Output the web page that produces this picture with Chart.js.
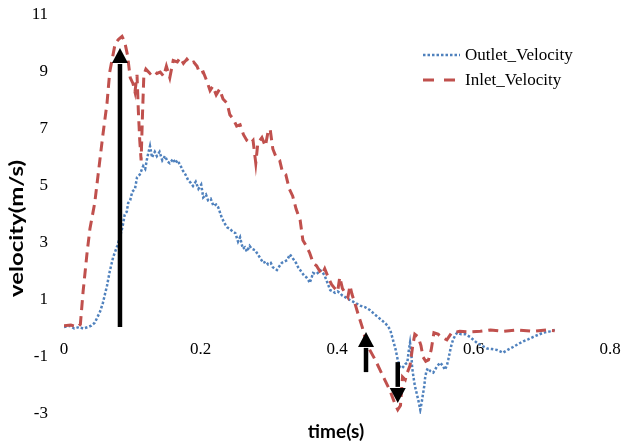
<!DOCTYPE html>
<html><head><meta charset="utf-8">
<script src="https://cdn.jsdelivr.net/npm/chart.js@4/dist/chart.umd.min.js"></script>
<style>html,body{margin:0;padding:0;background:#fff}#wrap{width:621px;height:441px}</style>
</head><body><div id="wrap"><canvas id="c" width="621" height="441"></canvas></div>
<script>
// ---- data ----
const seriesNames = ['Outlet_Velocity', 'Inlet_Velocity'];
const xTitle = 'time(s)';
const yTitle = 'velocity(m/s)';
const xTicks = [0, 0.2, 0.4, 0.6, 0.8];
const yTicks = [-3, -1, 1, 3, 5, 7, 9, 11];

const inletTime = [0,0.010,0.020,0.024,0.028,0.034,0.038,0.045,0.050,0.057,0.063,0.067,0.075,0.080,0.085,0.089,0.093,0.097,0.101,0.104,0.107,0.109,0.111,0.113,0.115,0.117,0.120,0.126,0.131,0.136,0.141,0.146,0.150,0.155,0.160,0.166,0.170,0.175,0.180,0.185,0.190,0.195,0.199,0.204,0.209,0.214,0.218,0.223,0.228,0.233,0.239,0.243,0.248,0.253,0.258,0.263,0.268,0.273,0.277,0.281,0.284,0.290,0.295,0.299,0.302,0.306,0.311,0.316,0.320,0.325,0.330,0.335,0.340,0.346,0.350,0.355,0.360,0.365,0.370,0.375,0.378,0.382,0.387,0.392,0.397,0.401,0.404,0.408,0.412,0.416,0.419,0.422,0.426,0.431,0.437,0.442,0.448,0.456,0.463,0.470,0.478,0.485,0.489,0.493,0.496,0.500,0.503,0.507,0.511,0.514,0.519,0.523,0.526,0.530,0.534,0.538,0.542,0.548,0.553,0.561,0.568,0.580,0.595,0.610,0.625,0.643,0.664,0.687,0.708,0.719];
const inletVel = [0.10,0.12,0.05,0.15,1.3,2.7,3.5,4.4,5.4,6.8,7.9,9.0,10.0,10.15,10.25,10.05,9.6,8.8,8.6,8.3,8.9,7.6,6.6,5.9,7.5,8.9,9.1,8.95,9.05,8.95,9.0,8.85,9.2,8.8,9.4,9.35,9.5,9.3,9.45,9.3,9.35,9.2,8.95,9.0,8.7,8.35,8.5,8.2,8.4,8.05,7.9,7.5,7.35,7.1,7.15,6.8,6.6,6.5,6.6,5.8,6.5,6.7,6.4,6.9,7.0,6.3,6.0,5.9,5.5,5.4,4.9,4.65,4.2,3.8,3.1,2.9,2.65,2.3,2.2,2.0,1.9,2.1,1.8,1.55,1.4,1.3,1.8,1.4,1.25,1.1,1.5,1.2,0.9,0.5,0.05,-0.4,-0.75,-1.1,-1.45,-1.8,-2.2,-2.65,-2.85,-2.7,-1.7,-1.8,-1.55,-1.3,-0.6,-0.2,-0.3,-0.6,-1.0,-1.15,-1.1,-0.75,-0.15,-0.2,-0.3,-0.4,-0.15,-0.1,-0.12,-0.1,-0.05,-0.1,-0.05,-0.1,-0.05,-0.08];

const outletTime = [0.000,0.008,0.015,0.022,0.028,0.035,0.040,0.045,0.049,0.053,0.057,0.060,0.063,0.067,0.072,0.078,0.082,0.086,0.089,0.092,0.094,0.097,0.100,0.104,0.107,0.111,0.116,0.119,0.122,0.126,0.129,0.133,0.136,0.140,0.144,0.148,0.152,0.155,0.160,0.163,0.166,0.170,0.174,0.178,0.182,0.186,0.189,0.193,0.197,0.201,0.204,0.208,0.211,0.215,0.219,0.223,0.226,0.231,0.235,0.239,0.243,0.247,0.251,0.255,0.258,0.262,0.265,0.268,0.272,0.275,0.280,0.284,0.288,0.292,0.296,0.299,0.303,0.306,0.309,0.312,0.316,0.319,0.323,0.327,0.331,0.334,0.337,0.340,0.343,0.346,0.349,0.352,0.355,0.358,0.360,0.363,0.365,0.369,0.372,0.375,0.378,0.382,0.386,0.390,0.394,0.397,0.401,0.404,0.408,0.412,0.419,0.427,0.434,0.441,0.448,0.455,0.460,0.465,0.470,0.474,0.478,0.482,0.486,0.489,0.492,0.495,0.497,0.500,0.503,0.505,0.507,0.509,0.510,0.512,0.514,0.517,0.519,0.522,0.524,0.526,0.528,0.529,0.531,0.533,0.537,0.541,0.546,0.551,0.555,0.558,0.561,0.563,0.566,0.568,0.570,0.573,0.576,0.582,0.588,0.595,0.600,0.605,0.612,0.620,0.627,0.634,0.639,0.643,0.650,0.658,0.665,0.673,0.680,0.687,0.695,0.702,0.708,0.712,0.719];
const outletVel = [0.05,0.1,0.0,0.05,0.0,0.05,0.1,0.2,0.4,0.6,0.9,1.2,1.5,2.0,2.5,2.9,3.2,3.6,4.0,4.1,4.4,4.5,4.8,4.9,5.3,5.4,5.7,5.6,6.0,6.4,6.0,6.2,6.05,6.2,5.9,6.05,5.85,5.8,5.95,5.8,5.9,5.75,5.55,5.4,5.2,5.1,5.0,5.15,4.9,5.05,4.6,4.7,4.5,4.55,4.3,4.35,4.25,3.9,3.7,3.55,3.5,3.4,3.35,3.05,3.2,2.8,2.85,2.7,2.9,2.8,2.75,2.6,2.45,2.3,2.35,2.25,2.3,2.15,2.1,2.05,2.2,2.3,2.35,2.4,2.6,2.5,2.4,2.3,2.15,2.05,1.95,1.85,1.8,1.7,1.6,1.8,1.95,1.9,1.95,2.05,2.0,1.85,1.6,1.35,1.3,1.25,1.3,1.25,1.15,1.1,1.0,0.9,0.8,0.75,0.65,0.5,0.4,0.3,0.2,0.1,-0.05,-0.4,-0.75,-1.1,-1.35,-1.4,-1.35,-1.25,-1.2,-0.8,-0.5,-0.9,-1.35,-1.7,-2.0,-2.3,-2.5,-2.85,-2.6,-2.3,-2.0,-1.75,-1.5,-1.4,-1.5,-1.55,-1.35,-1.2,-1.3,-1.45,-1.3,-1.1,-0.75,-0.55,-0.4,-0.25,-0.15,-0.2,-0.2,-0.3,-0.4,-0.5,-0.6,-0.7,-0.72,-0.75,-0.8,-0.85,-0.75,-0.65,-0.55,-0.45,-0.38,-0.3,-0.22,-0.15,-0.12,-0.1,-0.05];

// annotation arrows (time, start velocity, tip velocity)
const arrowTime = [0.082, 0.4425, 0.489];
const arrowFrom = [0.05, -1.53, -1.18];
const arrowTo   = [9.84, -0.12, -2.61];

// ---- styles ----
const BLUE = '#4f81bd', RED = '#c0504d';
const tickFont = {family: '"Liberation Serif", "Times New Roman", serif', size: 17};

const toPts = (ts, vs) => ts.map((t, i) => ({x: t, y: vs[i]}));

const overlay = {
  id: 'overlay',
  afterDatasetsDraw(chart) {
    const {ctx, scales: {x, y}} = chart;
    ctx.save();
    ctx.fillStyle = '#000'; ctx.strokeStyle = '#000';
    for (let i = 0; i < arrowTime.length; i++) {
      const px = x.getPixelForValue(arrowTime[i]);
      const y0 = y.getPixelForValue(arrowFrom[i]);
      const y1 = y.getPixelForValue(arrowTo[i]);
      const dir = y1 < y0 ? 1 : -1;
      const headLen = 15, headHalf = 8;
      const base = y1 + dir * headLen;
      ctx.lineWidth = 4.5; ctx.lineCap = 'butt'; ctx.setLineDash([]);
      ctx.beginPath(); ctx.moveTo(px, y0); ctx.lineTo(px, base + dir * 1); ctx.stroke();
      ctx.beginPath(); ctx.moveTo(px, y1); ctx.lineTo(px - headHalf, base); ctx.lineTo(px + headHalf, base); ctx.closePath(); ctx.fill();
    }
    ctx.restore();
  },
  afterDraw(chart) {
    const ctx = chart.ctx;
    ctx.save();
    // legend
    const rows = [
      {name: seriesNames[0], color: BLUE, width: 2.5, dash: [2.5, 2], y: 55, x1: 460},
      {name: seriesNames[1], color: RED, width: 3, dash: [11, 10], y: 80, x1: 455}
    ];
    rows.forEach(r => {
      ctx.strokeStyle = r.color; ctx.lineWidth = r.width; ctx.setLineDash(r.dash);
      ctx.beginPath(); ctx.moveTo(423, r.y); ctx.lineTo(r.x1, r.y); ctx.stroke();
      ctx.setLineDash([]);
      ctx.fillStyle = '#000';
      ctx.font = '17px "Liberation Serif", "Times New Roman", serif';
      ctx.textBaseline = 'middle'; ctx.textAlign = 'left';
      ctx.fillText(r.name, 465, r.y + 1);
    });
    // axis titles
    ctx.fillStyle = '#000';
    ctx.font = 'bold 19px Lato, "Liberation Sans", sans-serif';
    ctx.textAlign = 'center'; ctx.textBaseline = 'middle';
    ctx.fillText(xTitle, 336, 432);
    ctx.translate(16.5, 228.5);
    ctx.rotate(-Math.PI / 2);
    const w = ctx.measureText(yTitle).width;
    ctx.scale(137 / w, 1);
    ctx.fillText(yTitle, 0, 0);
    ctx.restore();
  }
};

new Chart(document.getElementById('c'), {
  type: 'line',
  data: {
    datasets: [
      {label: seriesNames[0], data: toPts(outletTime, outletVel), borderColor: BLUE, borderWidth: 2.5,
       borderDash: [2.5, 2], pointRadius: 0, fill: false, tension: 0, order: 2},
      {label: seriesNames[1], data: toPts(inletTime, inletVel), borderColor: RED, borderWidth: 3,
       borderDash: [10, 6], pointRadius: 0, fill: false, tension: 0, order: 1}
    ]
  },
  options: {
    responsive: false, animation: false, devicePixelRatio: 1,
    parsing: false,
    layout: {padding: {left: 0, right: 11, top: 15, bottom: 27}},
    plugins: {legend: {display: false}, tooltip: {enabled: false}},
    scales: {
      x: {
        type: 'linear', min: 0, max: 0.8, position: {y: 0},
        afterBuildTicks: s => { s.ticks = xTicks.map(v => ({value: v})); },
        afterFit: s => { s.paddingLeft = 0; s.paddingRight = 0; s.paddingTop = 0; s.paddingBottom = 0; },
        grid: {display: false, drawTicks: false},
        border: {display: false},
        ticks: {font: tickFont, color: '#000', padding: 11, maxRotation: 0, autoSkip: false}
      },
      y: {
        type: 'linear', min: -3, max: 11,
        afterBuildTicks: s => { s.ticks = yTicks.map(v => ({value: v})); },
        afterFit: s => { s.width = 64; s.paddingTop = 0; s.paddingBottom = 0; s.paddingLeft = 0; s.paddingRight = 0; },
        grid: {display: false, drawTicks: false},
        border: {display: false},
        ticks: {font: tickFont, color: '#000', padding: 16, autoSkip: false}
      }
    }
  },
  plugins: [overlay]
});
</script>
</body></html>
